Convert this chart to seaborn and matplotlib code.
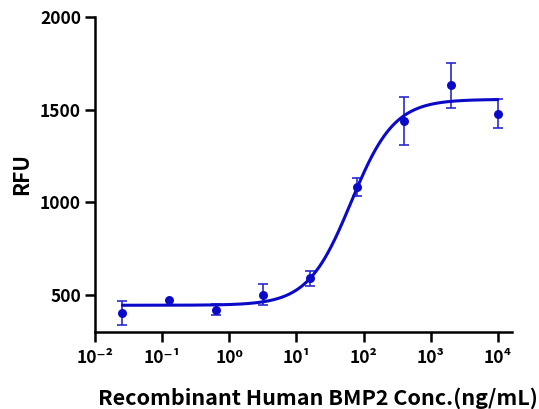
import numpy as np
import pandas as pd
import matplotlib
matplotlib.use("Agg")
import matplotlib.pyplot as plt
import seaborn as sns

# ---- data ----
conc = [0.0256, 0.128, 0.64, 3.2, 16, 80, 400, 2000, 10000]
rfu_mean = [402, 468, 419, 500, 587, 1081, 1440, 1632, 1478]
rfu_sd = [65, None, 32, 56, 43, 48, 130, 123, 79]  # None: error bar hidden by the marker

# 4PL fit parameters
fit_bottom = 442
fit_top = 1556
fit_ec50 = 65
fit_hill = 1.35

x_ticks = [1e-2, 1e-1, 1e0, 1e1, 1e2, 1e3, 1e4]
x_tick_labels = ["10⁻²", "10⁻¹", "10⁰", "10¹", "10²", "10³", "10⁴"]
y_ticks = [500, 1000, 1500, 2000]
y_tick_labels = ["500", "1000", "1500", "2000"]

xlabel = "Recombinant Human BMP2 Conc.(ng/mL)"
ylabel = "RFU"

# ---- build ----
sns.set_style("ticks", {"text.color": "black", "axes.labelcolor": "black",
                        "xtick.color": "black", "ytick.color": "black",
                        "axes.edgecolor": "black"})
plt.rcParams['font.family'] = ['Noto Sans CJK SC', 'DejaVu Sans']

color = "#0a0ac8"
df = pd.DataFrame({"conc": conc, "rfu": rfu_mean,
                   "sd": pd.to_numeric(pd.Series(rfu_sd), errors="coerce")})
xc = np.logspace(np.log10(conc[0]), np.log10(conc[-1]), 400)
yc = fit_bottom + (fit_top - fit_bottom) / (1 + (fit_ec50 / xc) ** fit_hill)
curve = pd.DataFrame({"conc": xc, "rfu": yc})

W, H = 539, 409
ax_l, ax_r, ax_t, ax_b = 95, 512, 17.3, 331.5
fig = plt.figure(figsize=(W / 100, H / 100), dpi=100)
ax = fig.add_axes([ax_l / W, 1 - ax_b / H, (ax_r - ax_l) / W, (ax_b - ax_t) / H])

eb = df.dropna(subset=["sd"])
ax.errorbar(eb["conc"], eb["rfu"], yerr=eb["sd"], fmt="none", ecolor="#2a2ad0",
            elinewidth=1.2, capsize=3.5, capthick=1.2, zorder=2)
sns.lineplot(data=curve, x="conc", y="rfu", ax=ax, color=color, linewidth=2.2, zorder=3)
sns.scatterplot(data=df, x="conc", y="rfu", ax=ax, color=color, s=42, edgecolor=color,
                linewidth=0, zorder=4)

ax.set_xscale("log")
ax.set_xlim(1e-2, 10 ** 4.21)
ax.set_ylim(300, 2000)
ax.set_xticks(x_ticks)
ax.set_xticklabels(x_tick_labels, fontsize=12.5, fontweight="bold", color="black")
ax.minorticks_off()
ax.set_yticks(y_ticks)
ax.set_yticklabels(y_tick_labels, fontsize=12.5, fontweight="bold", color="black")
ax.tick_params(axis="both", direction="out", length=7.5, width=1.8, color="black")
ax.tick_params(axis="y", pad=2.5)
ax.tick_params(axis="x", pad=5)

for s in ["top", "right"]:
    ax.spines[s].set_visible(False)
for s in ["left", "bottom"]:
    ax.spines[s].set_linewidth(1.8)
    ax.spines[s].set_color("black")

ax.set_xlabel(xlabel, fontsize=15.5, fontweight="bold", color="black")
ax.set_ylabel(ylabel, fontsize=15, fontweight="bold", color="black")
ax.xaxis.label.set_va("baseline")
ax.xaxis.set_label_coords(0.534, (ax_b - 404.5) / (ax_b - ax_t))
ax.yaxis.set_label_coords((32 - ax_l) / (ax_r - ax_l), 0.5)

fig.savefig("out.png", dpi=100)
